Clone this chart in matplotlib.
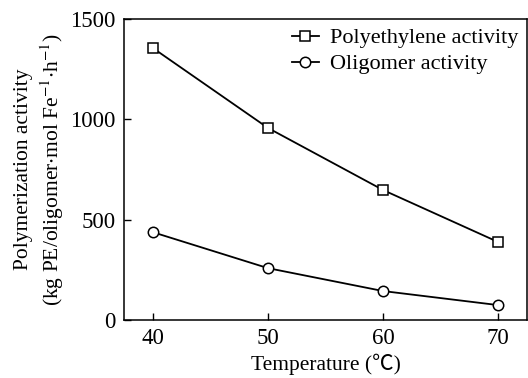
import matplotlib
matplotlib.use("Agg")
import matplotlib.pyplot as plt

# data
temperature = [40, 50, 60, 70]
pe_activity = [1355, 957, 648, 389]
oligomer_activity = [438, 259, 145, 75]

plt.rcParams["font.family"] = ["Liberation Serif", "Noto Sans CJK SC", "DejaVu Serif"]
plt.rcParams["mathtext.fontset"] = "stix"

fig = plt.figure(figsize=(5.28, 3.78), dpi=100)
ax = fig.add_axes([0.235, 0.153, 0.763, 0.797])

ax.plot(temperature, pe_activity, color="black", lw=1.3, marker="s",
        ms=7, mfc="white", mec="black", mew=1.1, label="Polyethylene activity")
ax.plot(temperature, oligomer_activity, color="black", lw=1.3, marker="o",
        ms=7.5, mfc="white", mec="black", mew=1.1, label="Oligomer activity")

ax.set_xlim(37.5, 72.5)
ax.set_ylim(0, 1500)
ax.set_xticks(temperature)
ax.set_yticks([0, 500, 1000, 1500])
ax.tick_params(direction="in", length=5, width=1, labelsize=16.5, pad=6)
for s in ax.spines.values():
    s.set_linewidth(1.1)

ax.set_xlabel("Temperature (\u2103)", fontsize=15.5, labelpad=3)
ax.set_ylabel("Polymerization activity\n"
              "(kg PE/oligomer$\\cdot$mol Fe$^{-1}$$\\cdot$h$^{-1}$)",
              fontsize=15.5, labelpad=3, linespacing=1.3)

ax.legend(loc="upper right", frameon=False, fontsize=16, handlelength=1.2,
          handletextpad=0.5, borderaxespad=0.0, labelspacing=0.25,
          bbox_to_anchor=(1.0, 1.0))

fig.savefig("out.png", dpi=100)
